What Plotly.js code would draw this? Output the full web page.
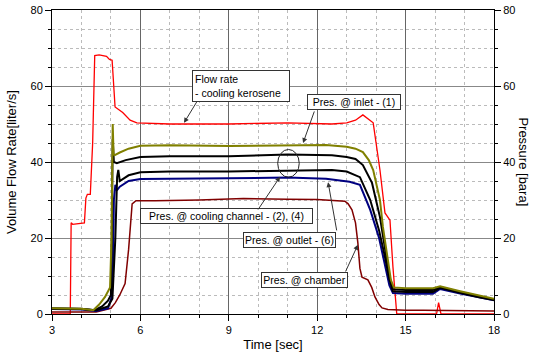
<!DOCTYPE html>
<html>
<head>
<meta charset="utf-8">
<script src="https://cdn.plot.ly/plotly-3.0.1.min.js"></script>
<style>html,body{margin:0;padding:0;background:#fff;}#chart{width:533px;height:357px;}</style>
</head>
<body>
<div id="chart"></div>
<script>
// Flow rate - cooling kerosene (left axis, liter/s)
const flowT = [3, 3.62, 3.65, 3.7, 4.1, 4.15, 4.2, 4.3, 4.38, 4.45, 4.6, 4.85, 4.95, 5.04, 5.14, 5.4, 5.65, 5.88, 7, 9, 11, 12.5, 13.0, 13.3, 13.55, 13.7, 13.9, 14.13, 14.3, 14.47, 14.52, 14.57, 14.7, 16.05, 16.12, 16.2, 18];
const flowV = [0, 0, 24, 23.6, 24, 30.5, 31.5, 31.5, 45, 68, 68.2, 67.8, 67, 66.8, 54.5, 53, 51, 50.3, 50, 50, 50.3, 50, 50.3, 51, 52.4, 51.5, 50.3, 37.9, 26.6, 24.7, 18, 12.4, 0, 0, 3, 0, 0];

// Pres. @ inlet - (1)
const inletT = [3, 4.0, 4.4, 4.6, 4.8, 4.97, 5.02, 5.06, 5.09, 5.13, 5.3, 5.6, 6.0, 7, 9, 11, 12.3, 13.0, 13.3, 13.55, 13.75, 13.9, 14.13, 14.23, 14.4, 14.5, 14.6, 15.0, 15.93, 16.17, 16.85, 17.5, 18];
const inletV = [1.5, 1.4, 1.0, 2.5, 4.5, 7, 20, 50, 42, 41.8, 42.5, 43.5, 44.3, 44.4, 44.2, 44.5, 44.5, 44, 43.5, 42.6, 40.5, 37.9, 30, 22.9, 14, 9, 7, 6.8, 6.8, 7.3, 6, 4.8, 4];

// Pres. @ cooling channel - (2)
const ch2T = [3, 4.0, 4.45, 4.7, 4.9, 5.0, 5.03, 5.06, 5.1, 5.2, 5.5, 6.0, 7, 9, 11, 12.5, 13.0, 13.3, 13.55, 13.86, 14.13, 14.3, 14.45, 14.57, 15.0, 15.93, 16.17, 16.85, 17.5, 18];
const ch2V = [1.5, 1.4, 1.0, 2.0, 3.5, 5, 20, 46, 40, 39.7, 40.5, 41.3, 41.5, 41.5, 42, 41.8, 41.3, 40.8, 39.2, 34.5, 25.5, 17, 10, 6.5, 6.3, 6.3, 7.1, 5.8, 4.6, 3.8];

// Pres. @ cooling channel - (4)
const ch4T = [3, 4.0, 4.5, 4.9, 5.05, 5.15, 5.21, 5.25, 5.3, 5.6, 6, 7, 9, 11, 12.5, 13.0, 13.45, 13.8, 14.1, 14.3, 14.45, 14.57, 15.0, 15.93, 16.17, 16.85, 17.5, 18];
const ch4V = [1.4, 1.3, 1.0, 2.0, 4, 20, 36, 37.9, 35, 36.5, 37.3, 37.5, 37.5, 37.7, 37.9, 37.5, 36, 30, 22, 15, 9, 6, 5.8, 5.8, 6.9, 5.6, 4.4, 3.7];

// Pres. @ outlet - (6)
const outT = [3, 4.0, 4.5, 4.9, 5.03, 5.07, 5.1, 5.15, 5.2, 5.3, 5.6, 6, 7, 9, 11, 12.3, 12.8, 13.1, 13.45, 13.8, 14.1, 14.3, 14.45, 14.57, 15.0, 15.93, 16.17, 16.85, 17.5, 18];
const outV = [1.3, 1.2, 0.8, 1.5, 4.5, 12, 30, 34, 32.5, 33.5, 35, 35.5, 35.6, 35.7, 35.9, 35.6, 35.2, 34.8, 34, 27.4, 20, 13, 7.5, 5.5, 5.3, 5.3, 6.6, 5.4, 4.3, 3.6];

// Pres. @ chamber
const chamT = [3, 4.5, 5.0, 5.15, 5.3, 5.48, 5.6, 5.72, 5.85, 6.5, 8, 9.5, 11, 12, 12.94, 13.05, 13.18, 13.3, 13.38, 13.45, 13.52, 13.72, 13.85, 13.96, 14.1, 14.2, 14.4, 15.0, 15.6, 18];
const chamV = [0.5, 0.5, 1.5, 3, 5, 8, 17, 29, 29.8, 29.8, 30, 30.4, 30.2, 30.1, 29.7, 29, 27.4, 24, 18.7, 12, 9.7, 9, 7, 4.5, 2.5, 1.6, 1.2, 1.0, 1.0, 0.8];

const xTicks = [3, 6, 9, 12, 15, 18];
const yTicks = [0, 20, 40, 60, 80];

const FONT = 'Liberation Sans, Arial, sans-serif';

const traces = [
  {x: chamT, y: chamV, yaxis: 'y2', mode: 'lines', line: {color: '#800000', width: 1.5}, name: 'Pres. @ chamber'},
  {x: outT, y: outV, yaxis: 'y2', mode: 'lines', line: {color: '#000080', width: 2}, name: 'Pres. @ outlet - (6)'},
  {x: ch4T, y: ch4V, yaxis: 'y2', mode: 'lines', line: {color: '#000000', width: 2}, name: 'Pres. @ cooling channel - (4)'},
  {x: ch2T, y: ch2V, yaxis: 'y2', mode: 'lines', line: {color: '#000000', width: 2}, name: 'Pres. @ cooling channel - (2)'},
  {x: inletT, y: inletV, yaxis: 'y2', mode: 'lines', line: {color: '#808000', width: 2}, name: 'Pres. @ inlet - (1)'},
  {x: flowT, y: flowV, yaxis: 'y', mode: 'lines', line: {color: '#ff0000', width: 1.3}, name: 'Flow rate'}
];

const boxStyle = {showarrow: false, bgcolor: '#ffffff', bordercolor: '#333333', borderwidth: 1, borderpad: 1,
  font: {family: FONT, size: 10.5, color: '#000'}, xref: 'x', yref: 'y'};
const arrowStyle = {text: '', showarrow: true, arrowhead: 2, arrowsize: 1, arrowwidth: 1, arrowcolor: '#333',
  xref: 'x', yref: 'y', axref: 'x', ayref: 'y'};

const annotations = [
  Object.assign({}, boxStyle, {x: 9.41, y: 59.9, text: 'Flow rate<br>- cooling kerosene', align: 'left', width: 92, borderpad: 2}),
  Object.assign({}, boxStyle, {x: 13.25, y: 55.8, text: 'Pres. @ inlet - (1)', width: 90}),
  Object.assign({}, boxStyle, {x: 8.92, y: 25.8, text: 'Pres. @ cooling channel - (2), (4)', width: 169}),
  Object.assign({}, boxStyle, {x: 11.06, y: 19.6, text: 'Pres. @ outlet - (6)', width: 89}),
  Object.assign({}, boxStyle, {x: 11.57, y: 8.9, text: 'Pres. @ chamber', width: 83}),
  Object.assign({}, arrowStyle, {x: 7.48, y: 50.3, ax: 7.95, ay: 56.3}),
  Object.assign({}, arrowStyle, {x: 11.52, y: 45, ax: 11.92, ay: 53.7}),
  Object.assign({}, arrowStyle, {x: 10.74, y: 36.1, ax: 9.96, ay: 27.1}),
  Object.assign({}, arrowStyle, {x: 12.37, y: 34.7, ax: 12.67, ay: 21.6}),
  Object.assign({}, arrowStyle, {x: 13.38, y: 18.2, ax: 12.94, ay: 10.8}),
  {xref: 'paper', yref: 'paper', x: 1.067, y: 0.5, xanchor: 'center', yanchor: 'middle', showarrow: false,
   text: 'Pressure [bara]', textangle: 90, font: {family: FONT, size: 13, color: '#000'}}
];

const layout = {
  width: 533, height: 357,
  margin: {l: 52, r: 39, t: 10, b: 43},
  paper_bgcolor: '#ffffff', plot_bgcolor: '#ffffff',
  showlegend: false,
  font: {family: FONT, size: 11, color: '#000'},
  xaxis: {
    range: [3, 18], tickvals: xTicks, ticktext: xTicks.map(String),
    showline: true, mirror: true, linecolor: '#000', linewidth: 1,
    ticks: 'outside', ticklen: 6, tickcolor: '#000',
    showgrid: true, gridcolor: '#666', gridwidth: 1, zeroline: false,
    minor: {dtick: 1, tick0: 3, ticks: 'outside', ticklen: 3, tickcolor: '#000', showgrid: true, gridcolor: '#bbbbbb', griddash: 'dot', gridwidth: 1},
    title: {text: 'Time [sec]', font: {family: FONT, size: 13}, standoff: 4},
    tickfont: {family: FONT, size: 11}
  },
  yaxis: {
    range: [0, 80], tickvals: yTicks, ticktext: yTicks.map(String),
    showline: true, linecolor: '#000', linewidth: 1,
    ticks: 'outside', ticklen: 6, tickcolor: '#000',
    showgrid: true, gridcolor: '#888', gridwidth: 1, zeroline: false,
    minor: {dtick: 5, tick0: 0, ticks: 'outside', ticklen: 3, tickcolor: '#000', showgrid: true, gridcolor: '#bbbbbb', griddash: 'dot', gridwidth: 1},
    title: {text: 'Volume Flow Rate[liter/s]', font: {family: FONT, size: 13}, standoff: 10},
    tickfont: {family: FONT, size: 11}
  },
  yaxis2: {
    range: [0, 80], tickvals: yTicks, ticktext: yTicks.map(String),
    overlaying: 'y', side: 'right',
    showline: true, linecolor: '#000', linewidth: 1,
    ticks: 'outside', ticklen: 6, tickcolor: '#000',
    showgrid: false, zeroline: false,
    minor: {dtick: 5, tick0: 0, ticks: 'outside', ticklen: 3, tickcolor: '#000', showgrid: false},
    tickfont: {family: FONT, size: 11}
  },
  shapes: [
    {type: 'circle', xref: 'x', yref: 'y', x0: 10.66, x1: 11.39, y0: 36.0, y1: 43.3, line: {color: '#222', width: 1}}
  ],
  annotations: annotations
};

Plotly.newPlot('chart', traces, layout, {staticPlot: true, displayModeBar: false});
</script>
</body>
</html>
